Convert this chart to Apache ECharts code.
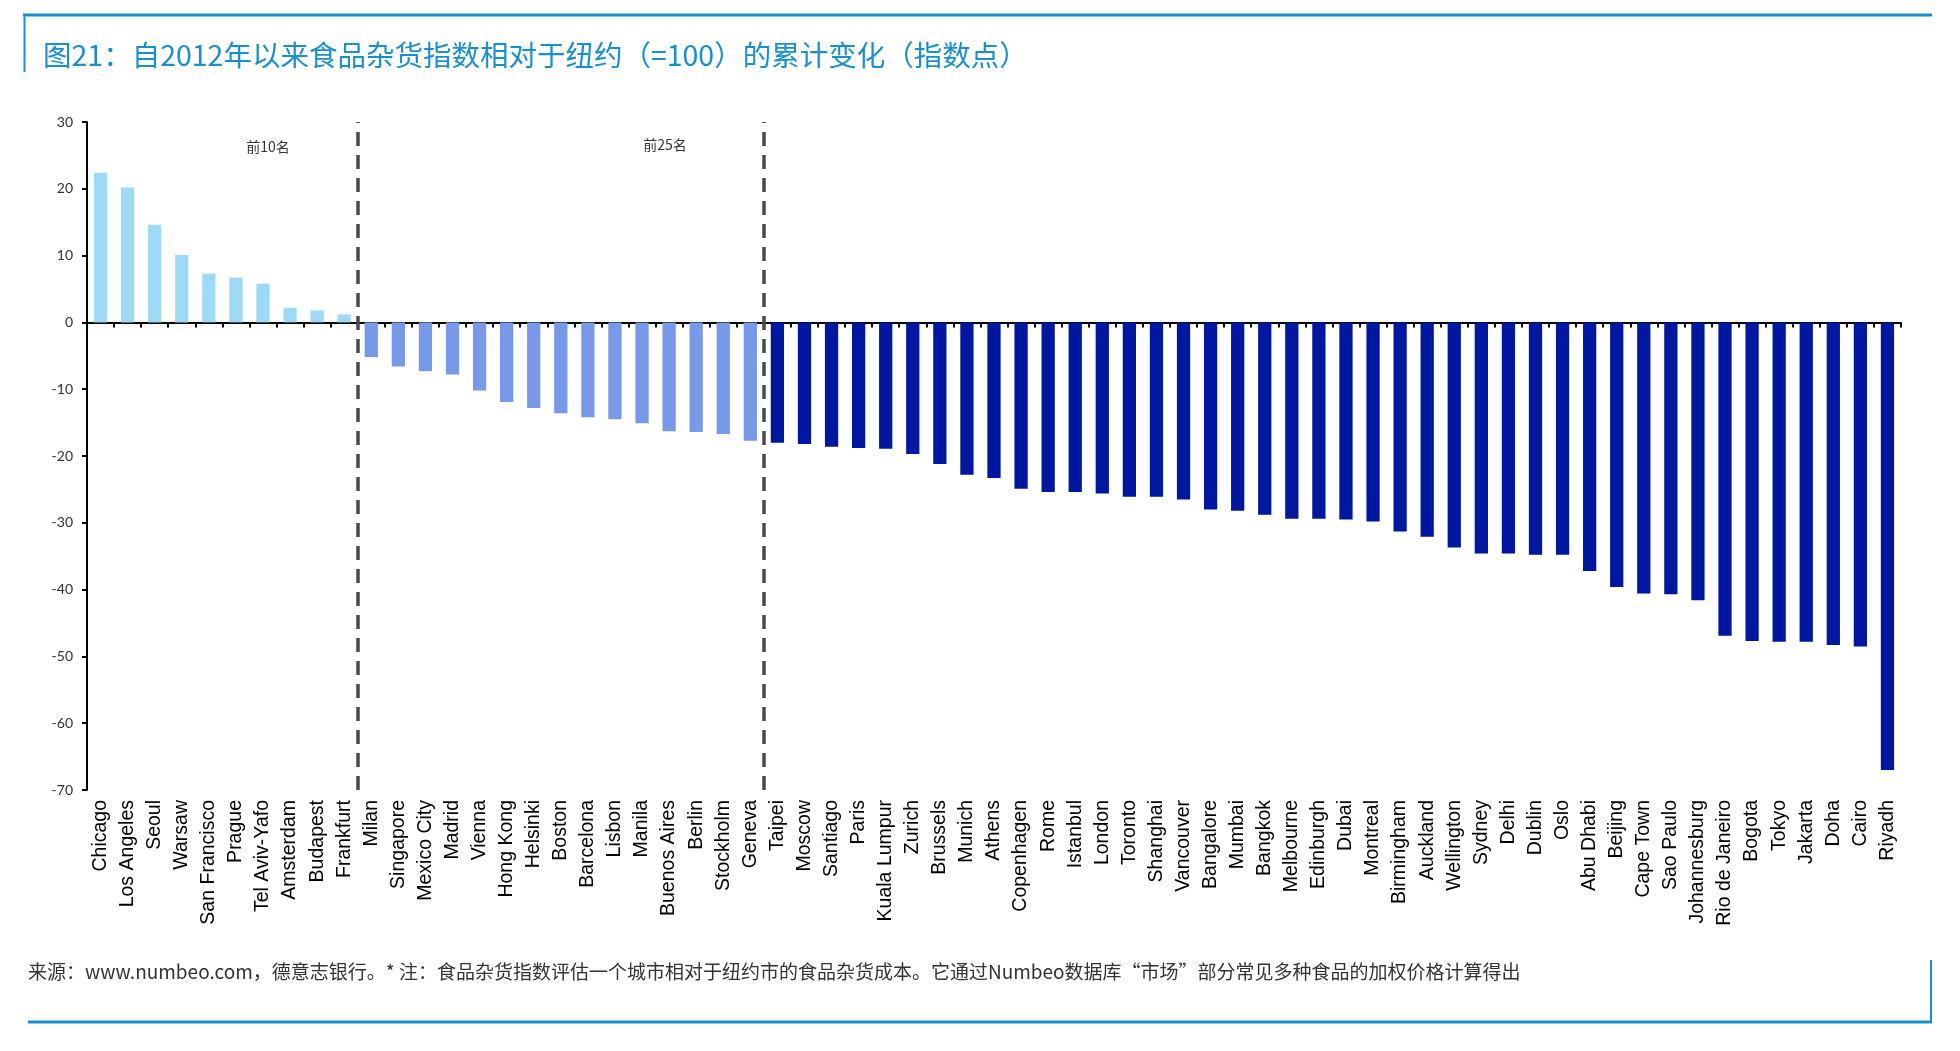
<!DOCTYPE html>
<html>
<head>
    <meta charset="utf-8" />
    <title>食品杂货指数</title>
    <script src="https://cdn.jsdelivr.net/npm/echarts@6/dist/echarts.min.js"></script>
    <style>
        html, body { margin: 0; padding: 0; background: #fff; }
        #container { width: 1960px; height: 1051px; }
    </style>
</head>
<body>
    <div id="container"></div>
    <script>
        // 城市（按变化排序）
        var cities = ['Chicago', 'Los Angeles', 'Seoul', 'Warsaw', 'San Francisco', 'Prague', 'Tel Aviv-Yafo', 'Amsterdam', 'Budapest', 'Frankfurt',
            'Milan', 'Singapore', 'Mexico City', 'Madrid', 'Vienna', 'Hong Kong', 'Helsinki', 'Boston', 'Barcelona', 'Lisbon',
            'Manila', 'Buenos Aires', 'Berlin', 'Stockholm', 'Geneva',
            'Taipei', 'Moscow', 'Santiago', 'Paris', 'Kuala Lumpur', 'Zurich', 'Brussels', 'Munich', 'Athens', 'Copenhagen',
            'Rome', 'Istanbul', 'London', 'Toronto', 'Shanghai', 'Vancouver', 'Bangalore', 'Mumbai', 'Bangkok', 'Melbourne',
            'Edinburgh', 'Dubai', 'Montreal', 'Birmingham', 'Auckland', 'Wellington', 'Sydney', 'Delhi', 'Dublin', 'Oslo',
            'Abu Dhabi', 'Beijing', 'Cape Town', 'Sao Paulo', 'Johannesburg', 'Rio de Janeiro', 'Bogota', 'Tokyo', 'Jakarta', 'Doha',
            'Cairo', 'Riyadh'];
        // 累计变化（指数点）
        var changes = [22.4, 20.2, 14.6, 10.1, 7.3, 6.7, 5.8, 2.2, 1.8, 1.2,
            -5.2, -6.6, -7.3, -7.8, -10.2, -11.9, -12.8, -13.6, -14.2, -14.5,
            -15.1, -16.3, -16.4, -16.7, -17.7,
            -18.0, -18.2, -18.6, -18.8, -18.9, -19.7, -21.2, -22.8, -23.3, -24.9,
            -25.4, -25.4, -25.6, -26.1, -26.1, -26.5, -28.0, -28.2, -28.8, -29.4,
            -29.4, -29.5, -29.8, -31.3, -32.1, -33.7, -34.6, -34.6, -34.8, -34.8,
            -37.2, -39.6, -40.6, -40.7, -41.6, -46.9, -47.7, -47.8, -47.8, -48.3,
            -48.5, -67.0];
        // 分组分界（前10名、前25名）
        var groupBreaks = [10, 25];
        var groupLabels = ['前10名', '前25名'];
        var groupColors = ['#9ed9f5', '#7799e8', '#0018a0'];
        var yTicks = { min: -70, max: 30, interval: 10 };

        var titleText = '图21：自2012年以来食品杂货指数相对于纽约（=100）的累计变化（指数点）';
        var sourceText = '来源：www.numbeo.com，德意志银行。* 注：食品杂货指数评估一个城市相对于纽约市的食品杂货成本。它通过Numbeo数据库“市场”部分常见多种食品的加权价格计算得出';

        var blue = '#1a8fd0';
        var dom = document.getElementById('container');
        var myChart = echarts.init(dom);

        var option = {
            backgroundColor: '#fff',
            animation: false,
            title: {
                text: titleText,
                left: 38,
                top: 36,
                textStyle: {
                    color: blue,
                    fontSize: 28.5,
                    fontWeight: 'normal',
                    fontFamily: 'Noto Sans CJK SC'
                }
            },
            grid: { left: 87, right: 59, top: 122, bottom: 261 },
            xAxis: [
                {
                    type: 'category',
                    data: cities,
                    axisLine: { onZero: true, lineStyle: { color: '#000', width: 2 } },
                    axisTick: { show: true, interval: 0, length: 5, lineStyle: { color: '#000', width: 2 } },
                    axisLabel: { show: false },
                    splitLine: { show: false }
                },
                {
                    type: 'category',
                    data: cities,
                    position: 'bottom',
                    axisLine: { show: false, onZero: false },
                    axisTick: { show: false },
                    axisLabel: {
                        rotate: 90,
                        interval: 0,
                        margin: 10,
                        color: '#000',
                        fontSize: 19.5,
                        fontFamily: 'Liberation Sans'
                    }
                },
                {
                    // 用于分组虚线
                    type: 'value',
                    min: 0,
                    max: cities.length,
                    show: false
                }
            ],
            yAxis: {
                type: 'value',
                min: yTicks.min,
                max: yTicks.max,
                interval: yTicks.interval,
                axisLine: { show: true, lineStyle: { color: '#000', width: 2 } },
                axisTick: { show: true, length: 5, lineStyle: { color: '#000', width: 2 } },
                axisLabel: { color: '#333', fontSize: 14, fontFamily: 'Lato', margin: 14 },
                splitLine: { show: false }
            },
            series: [
                {
                    name: '累计变化',
                    type: 'bar',
                    xAxisIndex: 0,
                    barWidth: '49%',
                    data: changes,
                    itemStyle: {
                        color: function (p) {
                            if (p.dataIndex < groupBreaks[0]) return groupColors[0];
                            if (p.dataIndex < groupBreaks[1]) return groupColors[1];
                            return groupColors[2];
                        }
                    }
                },
                {
                    name: '分组',
                    type: 'line',
                    xAxisIndex: 2,
                    data: [],
                    markLine: {
                        silent: true,
                        symbol: 'none',
                        label: { show: false },
                        lineStyle: { color: '#4a4a4a', width: 3.5, type: [14, 9] },
                        data: groupBreaks.map(function (b) { return { xAxis: b }; })
                    }
                }
            ],
            graphic: [
                // 上边框
                { type: 'line', shape: { x1: 23, y1: 15, x2: 1932, y2: 15 }, style: { stroke: blue, lineWidth: 3 } },
                { type: 'line', shape: { x1: 24.5, y1: 15, x2: 24.5, y2: 72 }, style: { stroke: blue, lineWidth: 2 } },
                // 下边框
                { type: 'line', shape: { x1: 28, y1: 1022, x2: 1932, y2: 1022 }, style: { stroke: blue, lineWidth: 3 } },
                { type: 'line', shape: { x1: 1931, y1: 960, x2: 1931, y2: 1022 }, style: { stroke: blue, lineWidth: 2 } },
                {
                    type: 'text', left: 28, top: 962,
                    style: { text: sourceText, fill: '#333', fontSize: 19, fontFamily: 'Noto Sans CJK SC' }
                },
                {
                    type: 'text', x: 268, y: 147,
                    style: { text: groupLabels[0], fill: '#333', fontSize: 14, fontFamily: 'Noto Sans CJK SC', align: 'center', verticalAlign: 'middle' }
                },
                {
                    type: 'text', x: 665, y: 145,
                    style: { text: groupLabels[1], fill: '#333', fontSize: 14, fontFamily: 'Noto Sans CJK SC', align: 'center', verticalAlign: 'middle' }
                }
            ]
        };

        myChart.setOption(option);
    </script>
</body>
</html>
